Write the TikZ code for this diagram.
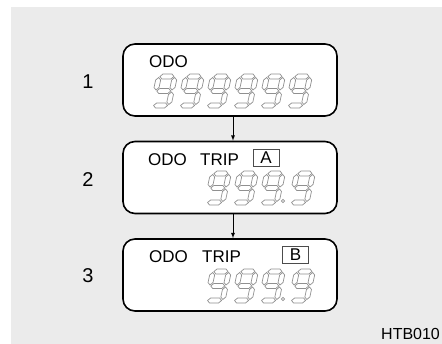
\documentclass[tikz,border=0pt]{standalone}
\usepackage{fontspec}
\setmainfont{Liberation Sans}
\usepackage{tikz}

\definecolor{panelgray}{HTML}{EBEBEB}
\definecolor{lcdgray}{HTML}{909090}

% one seven-segment "9", drawn as outlines; #1,#2 = top left corner
\newcommand\lcdnine[2]{%
  \begin{scope}[shift={(#1,#2)},xslant=0.22]
    \foreach \yy in {2.5,17,31.5}
      \draw[lcd] (3.5,\yy) -- ++(2.5,-2.5) -- ++(9,0) -- ++(2.5,2.5) -- ++(-2.5,2.5) -- ++(-9,0) -- cycle;
    \foreach \xx/\ya in {2.5/3.5,18.5/3.5,18.5/18}
      \draw[lcd] (\xx,\ya) -- ++(2.5,2.5) -- ++(0,7.5) -- ++(-2.5,2.5) -- ++(-2.5,-2.5) -- ++(0,-7.5) -- cycle;
  \end{scope}}

\begin{document}
\begin{tikzpicture}[x=1pt,y=-1pt,font=\fontsize{17}{19}\selectfont,
    lcd/.style={draw=lcdgray,line width=0.7pt},
    display/.style={draw,line width=1.6pt,rounded corners=12pt,fill=white,minimum width=214pt,minimum height=72pt},
    legend/.style={anchor=base west,inner sep=0pt},
    tag/.style={draw=black!70,line width=0.6pt,inner sep=0pt,minimum width=26pt,minimum height=17pt},
    step number/.style={font=\fontsize{20}{22}\selectfont,inner sep=0pt}]
  \useasboundingbox (0,0) rectangle (442,344);
  \fill[panelgray] (11,7) rectangle (442,344);

  % the three displays
  \node[display] (odo) at (230,80) {};
  \node[display] (tripa) at (230,177.5) {};
  \node[display] (tripb) at (230,275) {};

  \draw[line width=0.8pt,-latex] ([xshift=3pt]odo.south) -- ([xshift=3pt]tripa.north);
  \draw[line width=0.8pt,-latex] ([xshift=3pt]tripa.south) -- ([xshift=3pt]tripb.north);

  \node[step number] (n1) at (88,82) {1};
  \node[step number] (n2) at (88,180) {2};
  \node[step number] (n3) at (88,276) {3};

  % display 1
  \node[legend] (odo1) at (149,68) {ODO};
  \foreach \x in {157,184,211,238,265,292}{
    \lcdnine{\x}{74}
  }

  % display 2
  \node[legend] (odo2) at (148,166) {ODO};
  \node[legend] (trip2) at (200,166) {TRIP};
  \node[tag] (taga) at (266,157.5) {A};
  \foreach \x in {211,238,265,295}{
    \lcdnine{\x}{171}
  }
  \draw[lcd] (283,201) circle (1.6);

  % display 3
  \node[legend] (odo3) at (149,263) {ODO};
  \node[legend] (trip3) at (202,263) {TRIP};
  \node[tag] (tagb) at (295.5,255) {B};
  \foreach \x in {211,238,265,295}{
    \lcdnine{\x}{269}
  }
  \draw[lcd] (283,299) circle (1.6);

  \node[legend,font=\fontsize{16}{18}\selectfont] (code) at (381,340) {HTB010};
\end{tikzpicture}
\end{document}
